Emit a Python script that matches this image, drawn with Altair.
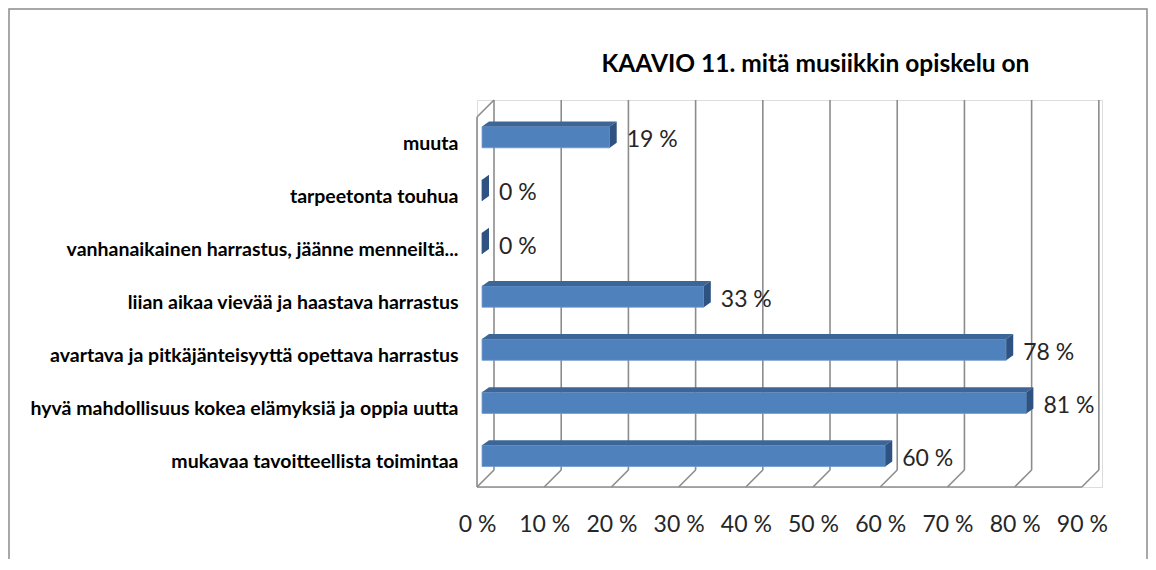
import json
import altair as alt
import pandas as pd

# ---- data ----
categories = [
    "mukavaa tavoitteellista toimintaa",
    "hyvä mahdollisuus kokea elämyksiä ja oppia uutta",
    "avartava ja pitkäjänteisyyttä opettava harrastus",
    "liian aikaa vievää ja haastava harrastus",
    "vanhanaikainen harrastus, jäänne menneiltä...",
    "tarpeetonta touhua",
    "muuta",
]
values = [60, 81, 78, 33, 0, 0, 19]
tick_values = [0, 10, 20, 30, 40, 50, 60, 70, 80, 90]
title_text = "KAAVIO 11. mitä musiikkin opiskelu on"

# ---- styling / pseudo-3D geometry (in scale units) ----
X_MAX = 93
Y_MIN, Y_MAX = -0.585, 6.70
BACK_DX, BACK_DY = 2.53, 0.32
BAR_OFF = 0.75
DEPTH_X, DEPTH_Y = 1.04, 0.094
HALF = 0.2
FONT = "Lato"

xs = alt.Scale(domain=[0, X_MAX], nice=False, zero=False)
ys = alt.Scale(domain=[Y_MIN, Y_MAX], nice=False, zero=False)

rows = list(range(len(categories)))
bars = pd.DataFrame({"idx": rows, "value": values, "cat": categories})
bars["x0"] = BAR_OFF
bars["x1"] = bars["value"] + BAR_OFF
bars["y0"] = bars["idx"] - HALF
bars["y1"] = bars["idx"] + HALF
bars["lx"] = bars["value"] + BAR_OFF + DEPTH_X
bars["ly"] = bars["idx"] - 0.06
bars["label"] = bars["value"].astype(str) + " %"

side = []
top = []
for r, v in zip(rows, values):
    x_end = v + BAR_OFF
    side.append({"bar": r, "k": 0, "px": x_end, "py": r - HALF, "py2": r + HALF})
    side.append({"bar": r, "k": 1, "px": x_end + DEPTH_X, "py": r - HALF + DEPTH_Y, "py2": r + HALF + DEPTH_Y})
    if v > 0:
        rt = r + HALF
        top.append({"bar": r, "k": 0, "px": BAR_OFF, "py": rt, "py2": rt})
        top.append({"bar": r, "k": 1, "px": BAR_OFF + DEPTH_X, "py": rt + DEPTH_Y, "py2": rt})
        top.append({"bar": r, "k": 2, "px": x_end, "py": rt + DEPTH_Y, "py2": rt})
        top.append({"bar": r, "k": 3, "px": x_end + DEPTH_X, "py": rt + DEPTH_Y, "py2": rt + DEPTH_Y})
side = pd.DataFrame(side)
top = pd.DataFrame(top)

grid = []
for t in tick_values:
    grid.append({"x": t + BACK_DX, "x2": t + BACK_DX, "y": Y_MIN + BACK_DY, "y2": Y_MAX})
    grid.append({"x": t, "x2": t + BACK_DX, "y": Y_MIN, "y2": Y_MIN + BACK_DY})
grid.append({"x": 0, "x2": tick_values[-1], "y": Y_MIN, "y2": Y_MIN})
grid.append({"x": 0, "x2": 0, "y": Y_MIN, "y2": Y_MAX - BACK_DY})
grid.append({"x": 0, "x2": BACK_DX, "y": Y_MAX - BACK_DY, "y2": Y_MAX})
grid = pd.DataFrame(grid)

label_expr = json.dumps(categories) + "[datum.value]"

grid_layer = alt.Chart(grid).mark_rule(color="#8C8C8C", strokeWidth=1.6).encode(
    x=alt.X("x:Q", scale=xs, axis=alt.Axis(
        values=tick_values, labelExpr="datum.value + ' %'", grid=False, domain=False,
        ticks=False, title=None, labelFont=FONT, labelFontSize=23, labelColor="#262626",
        labelPadding=26, labelFlush=False)),
    x2="x2:Q",
    y=alt.Y("y:Q", scale=ys, axis=alt.Axis(
        values=rows, labelExpr=label_expr, grid=False, domain=False, ticks=False,
        title=None, labelFont=FONT, labelFontSize=19.5, labelFontWeight="bold",
        labelColor="#000000", labelPadding=19, labelLimit=600, labelOffset=6)),
    y2="y2:Q",
)

front = alt.Chart(bars).mark_rect(color="#4F81BD", stroke="#6E98CC", strokeWidth=0.8).encode(
    x=alt.X("x0:Q", scale=xs), x2="x1:Q",
    y=alt.Y("y0:Q", scale=ys), y2="y1:Q",
)

top_layer = alt.Chart(top).mark_area(color="#3D6698", orient="vertical").encode(
    x=alt.X("px:Q", scale=xs), y=alt.Y("py:Q", scale=ys), y2="py2:Q",
    detail="bar:N",
)

side_layer = alt.Chart(side).mark_area(color="#2E5281", orient="vertical").encode(
    x=alt.X("px:Q", scale=xs), y=alt.Y("py:Q", scale=ys), y2="py2:Q",
    detail="bar:N",
)

text_layer = alt.Chart(bars).mark_text(
    align="left", baseline="middle", dx=10, font=FONT, fontSize=23, color="#262626"
).encode(
    x=alt.X("lx:Q", scale=xs), y=alt.Y("ly:Q", scale=ys), text="label:N",
)

frame = alt.Chart(pd.DataFrame({"f": [0]})).mark_rect(
    fill=None, stroke="#8C8C8C", strokeWidth=1.5
).encode(
    x=alt.value(-468), x2=alt.value(670), y=alt.value(-91), y2=alt.value(520),
)

chart = alt.layer(grid_layer, front, top_layer, side_layer, text_layer, frame).properties(
    width=625, height=387,
    autosize=alt.AutoSizeParams(type="none"),
    padding={"left": 469, "top": 92, "right": 46, "bottom": 72},
    title=alt.TitleParams(title_text, font=FONT, fontSize=24.5, fontWeight="bold",
                          color="#000000", anchor="middle", dx=26, dy=91, offset=22),
).configure_view(stroke=None).configure(background="white")

chart.save("out.html", embed_options={"renderer": "svg", "actions": False})
